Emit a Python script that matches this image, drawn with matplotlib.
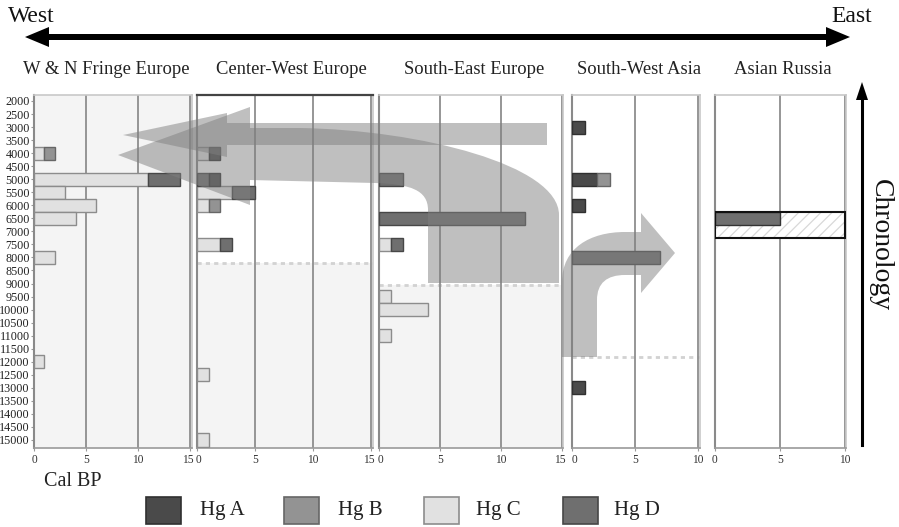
import numpy as np
import matplotlib
matplotlib.use("Agg")
import matplotlib.pyplot as plt
import matplotlib.transforms as mtransforms
from matplotlib.path import Path
from matplotlib.patches import PathPatch, Rectangle, Polygon

plt.rcParams['font.family'] = ['Liberation Serif', 'DejaVu Serif']
plt.rcParams['hatch.linewidth'] = 0.9

# ─── Data (Cal BP, counts per haplogroup) ────────────────────────────────────

regions = ['W & N Fringe Europe', 'Center-West Europe', 'South-East Europe',
           'South-West Asia', 'Asian Russia']
hg_names = ['Hg A', 'Hg B', 'Hg C', 'Hg D']
y_ticks = list(range(2000, 15001, 500))

wn_periods = [4000, 5000, 5500, 6000, 6500, 8000, 12000]
wn_A = [0, 0, 0, 0, 0, 0, 0]
wn_B = [1, 0, 0, 0, 0, 0, 0]
wn_C = [1, 11, 3, 6, 4, 2, 1]
wn_D = [0, 3, 0, 0, 0, 0, 0]

cw_periods = [4000, 5000, 5500, 6000, 7500, 12500, 15000]
cw_A = [1, 1, 0, 0, 0, 0, 0]
cw_B = [0, 0, 0, 1, 0, 0, 0]
cw_C = [1, 0, 3, 1, 2, 1, 1]
cw_D = [0, 1, 2, 0, 1, 0, 0]

se_periods = [5000, 6500, 7500, 9500, 10000, 11000]
se_A = [0, 0, 0, 0, 0, 0]
se_B = [0, 0, 0, 0, 0, 0]
se_C = [0, 0, 1, 1, 4, 1]
se_D = [2, 12, 1, 0, 0, 0]

sw_periods = [3000, 5000, 6000, 8000, 13000]
sw_A = [1, 2, 1, 0, 1]
sw_B = [0, 1, 0, 0, 0]
sw_C = [0, 0, 0, 0, 0]
sw_D = [0, 0, 0, 7, 0]

# Asian Russia: one dated range, Hg D in part of it
ru_range = (6250, 7250)
ru_D_range = (6250, 6750)
ru_D = 5
ru_total = 10

# boundary of the shaded (older) part of each panel
shade_from = [1770, 8200, 9050, None, None]

# ─── Styles ──────────────────────────────────────────────────────────────────

W, H = 899, 527
fill = {'A': '#4a4a4a', 'B': '#939393', 'C': '#e1e1e1', 'D': '#6f6f6f'}
edge = {'A': '#303030', 'B': '#666666', 'C': '#8c8c8c', 'D': '#474747'}
stack_order = ['C', 'D', 'A', 'B']
bg = '#f4f4f4'
grid_c = '#8e8e8e'

fig = plt.figure(figsize=(W / 100, H / 100), dpi=100)

# panel pixel extents (left, right) and x limits
panel_px = [(34, 192), (197, 373), (379, 563), (572, 700), (715, 846)]
xmax = [15.2, 15.15, 15.1, 10.15, 10.08]
xticks = [[0, 5, 10, 15], [0, 5, 10, 15], [0, 5, 10, 15], [0, 5, 10], [0, 5, 10]]
top_px, bot_px = 95, 448

series = [
    (wn_periods, dict(A=wn_A, B=wn_B, C=wn_C, D=wn_D)),
    (cw_periods, dict(A=cw_A, B=cw_B, C=cw_C, D=cw_D)),
    (se_periods, dict(A=se_A, B=se_B, C=se_C, D=se_D)),
    (sw_periods, dict(A=sw_A, B=sw_B, C=sw_C, D=sw_D)),
    None,
]

axes = []
for i, (x0, x1) in enumerate(panel_px):
    ax = fig.add_axes([x0 / W, 1 - bot_px / H, (x1 - x0) / W, (bot_px - top_px) / H])
    ax.set_xlim(0, xmax[i])
    ax.set_ylim(15307, 1770)
    ax.set_facecolor('white')
    if shade_from[i] is not None:
        ax.axhspan(shade_from[i], 15307, color=bg, lw=0, zorder=0)
        if i > 0:
            ax.axhline(shade_from[i], color='#d2d2d2', lw=2, ls=(0, (1.5, 1.5)), zorder=1)
    if i == 3:
        ax.axhline(11800, color='#d2d2d2', lw=2, ls=(0, (1.5, 1.5)), zorder=1)
    for g in xticks[i][1:]:
        ax.axvline(g, color=grid_c, lw=1.3, zorder=1)
    for s in ax.spines.values():
        s.set_color('#c8c8c8')
        s.set_linewidth(1.2)
    ax.spines['left'].set_color('#8a8a8a')
    ax.spines['left'].set_linewidth(1.5)
    ax.spines['bottom'].set_color('#9a9a9a')
    if i == 1:
        ax.spines['top'].set_color('#444444')
        ax.spines['top'].set_linewidth(1.6)
    ax.set_xticks(xticks[i])
    ax.tick_params(axis='x', length=2, width=0.8, color='#999999', pad=2,
                   labelsize=8.3, labelcolor='#333333')
    # keep "15" and the next panel's "0" apart
    labels = ax.get_xticklabels()
    if i < 3:
        labels[-1].set_transform(labels[-1].get_transform() +
                                 mtransforms.Affine2D().translate(-2, 0))
    if 0 < i < 4:
        labels[0].set_transform(labels[0].get_transform() +
                                mtransforms.Affine2D().translate(2, 0))
    if i == 0:
        ax.set_yticks(y_ticks)
        ax.tick_params(axis='y', length=2, width=0.8, color='#999999', pad=1,
                       labelsize=8.7, labelcolor='#222222')
    else:
        ax.set_yticks([])

    if series[i] is not None:
        periods, vals = series[i]
        periods = np.array(periods)
        left = np.zeros(len(periods))
        for k in stack_order:
            v = np.array(vals[k], dtype=float)
            m = v > 0
            if m.any():
                ax.barh(periods[m], v[m], left=left[m], height=500,
                        color=fill[k], edgecolor=edge[k], lw=1, zorder=3)
            left += v
    axes.append(ax)

# Asian Russia range bar
ax = axes[4]
ax.barh(np.mean(ru_range), ru_total, height=ru_range[1] - ru_range[0],
        facecolor='white', edgecolor='#d8d8d8', hatch='///', lw=0, zorder=3)
ax.barh(np.mean(ru_D_range), ru_D, height=ru_D_range[1] - ru_D_range[0],
        color=fill['D'], edgecolor='#333333', lw=1, zorder=4)
ax.barh(np.mean(ru_range), ru_total, height=ru_range[1] - ru_range[0],
        fill=False, edgecolor='#111111', lw=1.5, zorder=5)
ax.axvline(0, color=grid_c, lw=1.3, zorder=1)

# ─── Overlay: arrows, titles, legend (pixel coordinates) ─────────────────────

ov = fig.add_axes([0, 0, 1, 1], zorder=10)
ov.set_xlim(0, W)
ov.set_ylim(H, 0)
ov.axis('off')
ov.patch.set_alpha(0)

M, L, C4, Z = Path.MOVETO, Path.LINETO, Path.CURVE4, Path.CLOSEPOLY
arrow_kw = dict(facecolor='#808080', alpha=0.5, lw=0)

# big curved arrow: South-East Europe -> west
v1 = [(428, 283), (428, 210), (428, 190), (410, 184), (375, 183), (250, 180),
      (250, 205), (118, 155), (250, 107), (250, 128), (300, 128),
      (420, 130), (559, 165), (559, 215), (559, 283), (428, 283)]
c1 = [M, L, C4, C4, C4, L, L, L, L, L, L, C4, C4, C4, L, Z]
ov.add_patch(PathPatch(Path(v1, c1), **arrow_kw))

# straight arrow going west
v2 = [(547, 123), (227, 123), (227, 113), (123, 135), (227, 157), (227, 145),
      (547, 145), (547, 123)]
c2 = [M, L, L, L, L, L, L, Z]
ov.add_patch(PathPatch(Path(v2, c2), **arrow_kw))

# curved arrow: South-West Asia -> east
v3 = [(562, 357), (562, 282), (562, 248), (590, 232), (625, 232), (641, 232),
      (641, 213), (675, 253), (641, 293), (641, 275), (625, 275),
      (607, 275), (597, 283), (597, 300), (597, 357), (562, 357)]
c3 = [M, L, C4, C4, C4, L, L, L, L, L, L, C4, C4, C4, L, Z]
ov.add_patch(PathPatch(Path(v3, c3), **arrow_kw))

# west-east double arrow
ov.add_patch(Polygon([(25, 37), (49, 27), (49, 34), (826, 34), (826, 27), (850, 37),
                      (826, 47), (826, 40), (49, 40), (49, 47)],
                     closed=True, facecolor='black', lw=0))
ov.text(8, 16, 'West', fontsize=17, va='center', ha='left', color='#111111')
ov.text(872, 16, 'East', fontsize=17, va='center', ha='right', color='#111111')

# chronology arrow
ov.add_patch(Polygon([(856, 100), (862, 82), (868, 100)], closed=True,
                     facecolor='black', lw=0))
ov.plot([862, 862], [98, 445], color='black', lw=2.2)
ov.text(880, 245, 'Chronology', fontsize=20, rotation=-90, va='center',
        ha='center', color='#111111')

title_x = [106, 291, 474, 639, 783]
for t, x in zip(regions, title_x):
    ov.text(x, 70, t, fontsize=13.4, ha='center', va='center', color='#222222')

ov.text(44, 481, 'Cal BP', fontsize=14.5, ha='left', va='center', color='#222222')

legend_box_x = [146, 284, 424, 563]
legend_text_x = [200, 338, 476, 614]
for name, k, bx, tx in zip(hg_names, ['A', 'B', 'C', 'D'], legend_box_x, legend_text_x):
    ov.add_patch(Rectangle((bx, 497), 35, 27, facecolor=fill[k],
                           edgecolor=edge[k], lw=1.2))
    ov.text(tx, 511, name, fontsize=15, ha='left', va='center', color='#222222')

fig.savefig('out.png', dpi=100)
